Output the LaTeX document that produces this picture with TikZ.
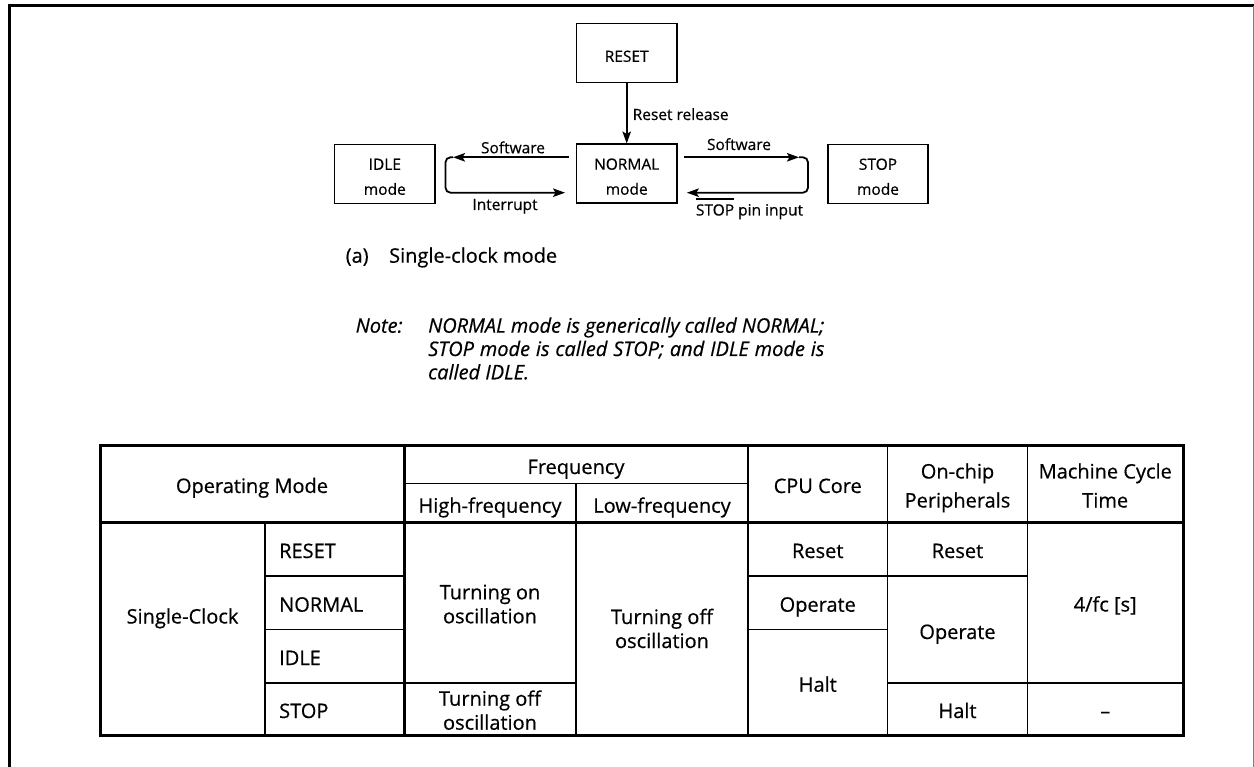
\documentclass[tikz,border=0pt]{standalone}
\usepackage{fontspec}
\setmainfont{Open Sans}[FakeBold=0.5]
\usetikzlibrary{arrows.meta,calc}
\newlength\notew
\newcommand\dlow[1]{\raisebox{-3.3pt}[\height][\depth]{#1}}
\newcommand\ovl[1]{\setbox0\hbox{#1}\rlap{\rule[15.6pt]{\wd0}{1.8pt}}\box0\relax}
\begin{document}
\begin{tikzpicture}[x=1pt,y=-1pt,
  dfont/.style={font=\fontsize{15.5}{25}\selectfont},
  tfont/.style={font=\fontsize{20}{24}\selectfont},
  hfont/.style={font=\fontsize{20}{29}\selectfont},
  nfont/.style={font=\fontsize{20}{23.3}\selectfont\itshape},
  modebox/.style={draw,line width=1.8pt,minimum width=100.5pt,minimum height=59pt,inner sep=0pt,dfont},
  arr/.style={line width=1.8pt,-{Stealth[length=12pt,width=8.5pt,inset=2.5pt]}},
  lbl/.style={inner sep=0pt,anchor=base,dfont},
  cell/.style={inner sep=0pt,anchor=base,tfont},
  hcell/.style={inner sep=0pt,anchor=base,hfont},
  cellw/.style={inner sep=0pt,anchor=base west,tfont},
  tline/.style={line width=3pt},
  tthin/.style={line width=1.6pt},
  frame/.style={line width=2.7pt}
]
\useasboundingbox (0,0) rectangle (1254,767);

% outer frame
\draw[frame] (9.5,767) -- (9.5,5.7) -- (1254,5.7);
\draw[gray,line width=1pt] (1253.3,5.7) -- (1253.3,767);

% ---------- state diagram ----------
\node[modebox] (RESET)  at (626.7,53)    {\dlow{RESET}};
\node[modebox] (NORMAL) at (626.7,173.9) {\dlow{\begin{tabular}{@{}c@{}}NORMAL\\mode\end{tabular}}};
\node[modebox] (IDLE)   at (384.8,174)   {\dlow{\begin{tabular}{@{}c@{}}IDLE\\mode\end{tabular}}};
\node[modebox] (STOP)   at (878,174)     {\dlow{\begin{tabular}{@{}c@{}}STOP\\mode\end{tabular}}};

\draw[arr] (RESET) -- (NORMAL);
\node[lbl,anchor=base west] (lrr) at (632.5,120) {Reset release};

\coordinate (lt)  at (453,157.3);
\coordinate (lc1) at (445.5,157.3);
\coordinate (lc2) at (445.5,192.7);
\draw[arr,shorten <=7pt] (NORMAL.west |- lt) -- (lt);
\draw[arr,rounded corners=5pt,shorten >=10.5pt] (lt) -- (lc1) -- (lc2) -- (NORMAL.west |- lc2);
\node[lbl] (lsw) at (513,153.3) {Software};
\node[lbl] (lint) at (505,210) {Interrupt};

\coordinate (rt)  at (799,157.3);
\coordinate (rc1) at (808,157.3);
\coordinate (rc2) at (808,192.7);
\draw[arr,shorten <=6.5pt] (NORMAL.east |- rt) -- (rt);
\draw[arr,rounded corners=5pt,shorten >=9pt] (rt) -- (rc1) -- (rc2) -- (NORMAL.east |- rc2);
\node[lbl] (rsw) at (739,150) {Software};
\node[lbl] (rpin) at (749.5,215.5) {\ovl{STOP} pin input};

% caption and note
\node[cellw] (cap) at (345.5,262.7) {(a)\hspace{20.5pt}Single-clock mode};
\node[inner sep=0pt,anchor=base west,nfont] (notelbl) at (355.5,332.7) {Note:};
\node[inner sep=0pt,anchor=base west,nfont] (notebody) at (428,332.7)
  {\settowidth\notew{NORMAL mode is generically called NORMAL;}%
   \parbox[t]{\notew}{NORMAL mode is generically called NORMAL;\linebreak
   STOP mode is called STOP; and IDLE mode is\linebreak called IDLE.}};

% ---------- table ----------
\draw[tthin] (404,483.3) -- (748,483.3);
\draw[tthin] (576,483.3) -- (576,735.7);
\draw[tthin] (748,445.7) -- (748,735.7);
\draw[tthin] (887.5,445.7) -- (887.5,735.7);
\draw[tthin] (1027.5,445.7) -- (1027.5,735.7);
\draw[tthin] (265,522.3) -- (265,735.7);
\draw[tthin] (265,576) -- (404,576) (748,576) -- (1027.5,576);
\draw[tthin] (265,629.3) -- (404,629.3) (748,629.3) -- (887.5,629.3);
\draw[tthin] (265,682.7) -- (576,682.7) (887.5,682.7) -- (1183,682.7);
\draw[tline] (100,522.3) -- (1183,522.3);
\draw[tline] (404,445.7) -- (404,735.7);
\draw[tline] (100,445.7) rectangle (1183,735.7);

% header
\node[cell] (hop)  at (252,493)    {Operating Mode};
\node[cell] (hfr)  at (576,474)    {Frequency};
\node[cell] (hhi)  at (490,512.7)  {High-frequency};
\node[cell] (hlo)  at (662,512.7)  {Low-frequency};
\node[cell] (hcpu) at (817.75,493) {CPU Core};
\node[hcell] (hper) at (957.5,478.5)  {\begin{tabular}[t]{@{}c@{}}On-chip\\Peripherals\end{tabular}};
\node[hcell] (hmc)  at (1105.25,478.5) {\begin{tabular}[t]{@{}c@{}}Machine Cycle\\Time\end{tabular}};

% body
\node[cell] (sc) at (182.5,623.5) {Single-Clock};
\node[cellw] (mreset)  at (279,558)   {RESET};
\node[cellw] (mnormal) at (279,611.7) {NORMAL};
\node[cellw] (midle)   at (279,665)   {IDLE};
\node[cellw] (mstop)   at (279,718)   {STOP};
\node[cell] (hion)  at (490,599.3) {\begin{tabular}[t]{@{}c@{}}Turning on\\oscillation\end{tabular}};
\node[cell] (hioff) at (490,705.7) {\begin{tabular}[t]{@{}c@{}}Turning off\\oscillation\end{tabular}};
\node[cell] (looff) at (662,624)   {\begin{tabular}[t]{@{}c@{}}Turning off\\oscillation\end{tabular}};
\node[cell] (cres)  at (817.75,558)   {Reset};
\node[cell] (cop)   at (817.75,611.7) {Operate};
\node[cell] (chalt) at (817.75,691.7) {Halt};
\node[cell] (pres)  at (957.5,558) {Reset};
\node[cell] (pop)   at (957.5,639) {Operate};
\node[cell] (phalt) at (957.5,718) {Halt};
\node[cell] (mct)   at (1105.25,611.5) {4/fc [s]};
\node[cell] (mdash) at (1105.25,718)   {--};
\end{tikzpicture}
\end{document}
